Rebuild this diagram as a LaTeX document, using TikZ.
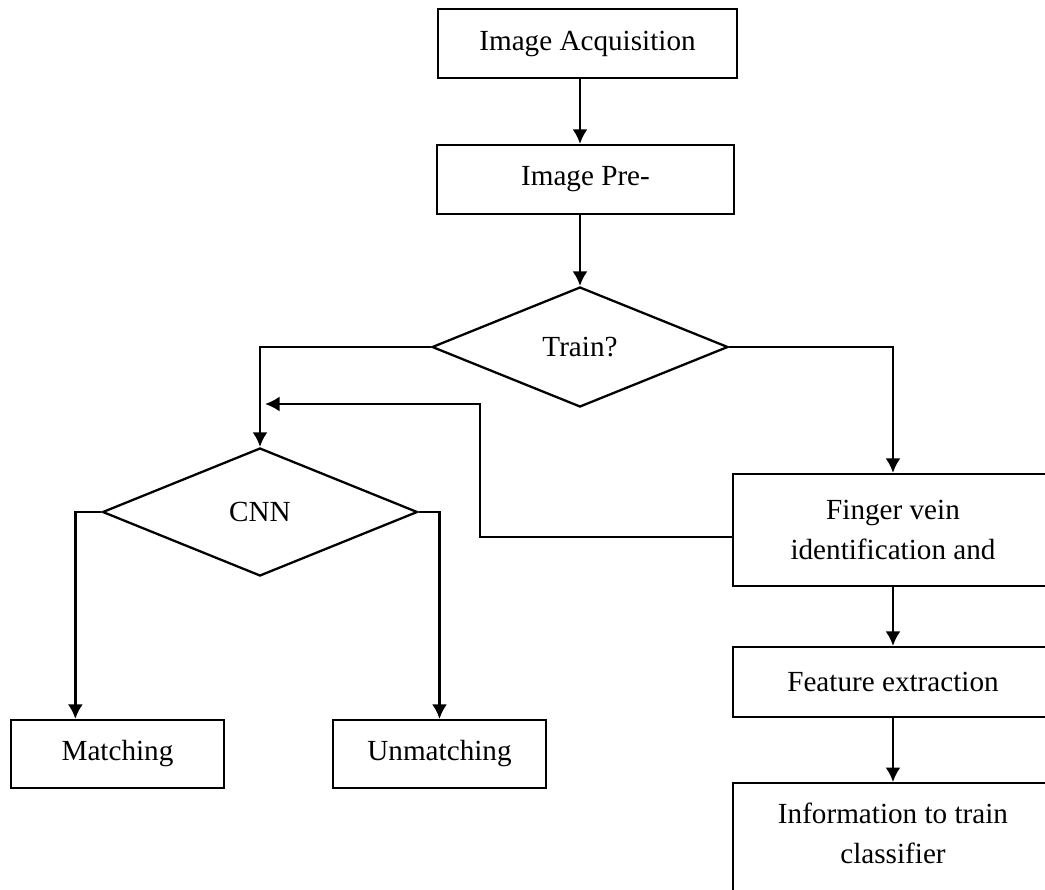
\documentclass[tikz,border=0pt]{standalone}
\usepackage{fontspec}
\setmainfont{Liberation Serif}
\usetikzlibrary{arrows.meta,shapes.geometric}
\tikzset{
  proc/.style={draw,line width=1.3pt,minimum width=6.4cm,minimum height=1.38cm,align=center},
  decide/.style={draw,diamond,line width=1.3pt,inner sep=0pt},
  arr/.style={line width=1.3pt,-{Latex[length=2.9mm,width=3mm]}}
}
\begin{document}
\begin{tikzpicture}\fontsize{16.6}{22.8}\selectfont
\useasboundingbox(0,0)rectangle(20.9,-17.78);
\clip(0,0)rectangle(20.9,-17.78);
\node[proc,minimum width=5.98cm](acq)at(11.75,-0.87){Image Acquisition};
\node[proc,minimum width=5.94cm](pre)at(11.71,-3.59){Image Pre-};
\node[decide,minimum width=5.92cm,minimum height=2.4cm](train)at(11.6,-6.94){Train?};
\node[decide,minimum width=6.3cm,minimum height=2.56cm](cnn)at(5.2,-10.24){CNN};
\node[proc,minimum width=4.26cm,minimum height=1.36cm](match)at(2.35,-15.08){Matching};
\node[proc,minimum width=4.26cm,minimum height=1.36cm](unmatch)at(8.79,-15.08){Unmatching};
\node[proc,minimum height=2.24cm](finger)at(17.86,-10.6){Finger vein\\identification and};
\node[proc,minimum height=1.4cm](feat)at(17.86,-13.64){Feature extraction};
\node[proc,anchor=north,inner ysep=0.4cm,text depth=1.7cm](info)at(17.86,-15.64){Information to train\\classifier};
\coordinate(fbin)at(5.3,-8.08);
% main line
\draw[arr](acq.south-|train.north)--(pre.north-|train.north);
\draw[arr](pre.south-|train.north)--(train.north);
\draw[arr](train.west)-|(cnn.north);
\draw[arr](train.east)-|(finger.north);
\draw[arr](finger.south)--(feat.north);
\draw[arr](feat.south)--(info.north);
% back to the classifier
\draw[arr]([yshift=-1.4mm]finger.west)--++(-5.04,0)|-(fbin);
\draw[arr](cnn.west)--++(-0.52,0)coordinate(ml)--(ml|-match.north);
\draw[arr](cnn.east)-|(unmatch.north);
\end{tikzpicture}
\end{document}
